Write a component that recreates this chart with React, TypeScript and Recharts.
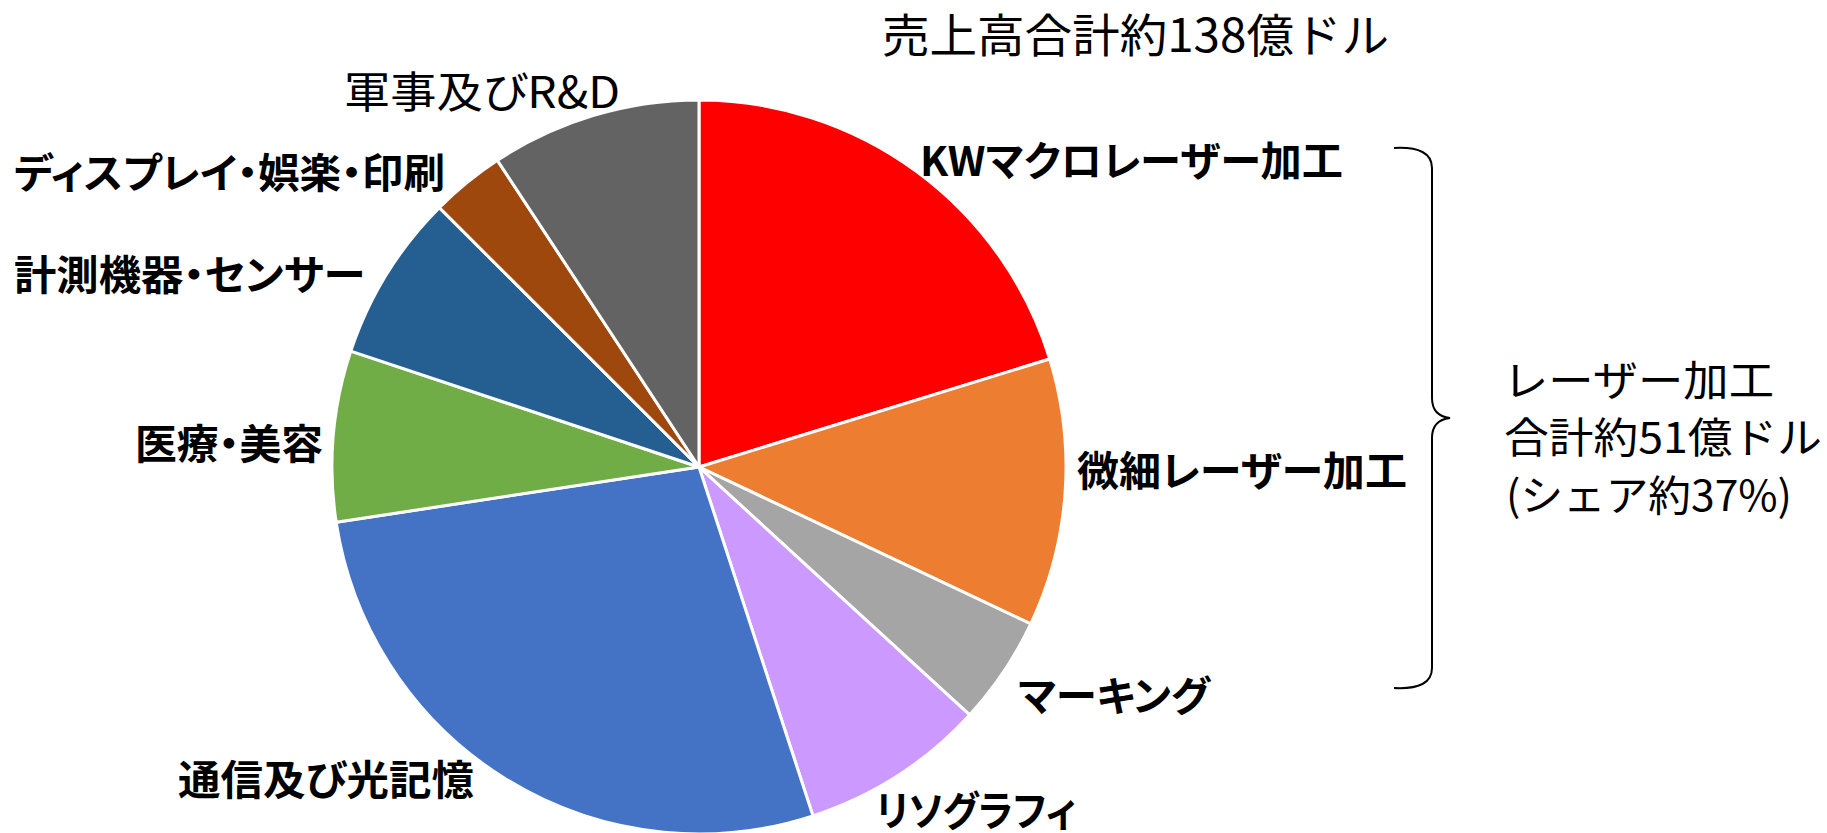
import React from 'react';
import { PieChart, Pie, Cell } from 'recharts';

// 売上高 (億ドル)
const segments = [
  'KWマクロレーザー加工',
  '微細レーザー加工',
  'マーキング',
  'リソグラフィ',
  '通信及び光記憶',
  '医療・美容',
  '計測機器・センサー',
  'ディスプレイ・娯楽・印刷',
  '軍事及びR&D',
];
const sales = [28, 16.3, 6.6, 11.3, 38.2, 10.4, 10.2, 4.5, 12.8];
const colors = ['#FF0000', '#ED7D31', '#A5A5A5', '#CC99FF', '#4472C4', '#70AD47', '#255E91', '#9E480E', '#636363'];

const title = '売上高合計約138億ドル';
const bracketNote = ['レーザー加工', '合計約51億ドル', '(シェア約37%)'];

// label placement relative to the pie centre: text start x, centre y, fitted width
const labelLayout = [
  { dx: 221, dy: -309, w: 423, bold: true },
  { dx: 378, dy: 1, w: 330, bold: true },
  { dx: 319, dy: 226, w: 192, bold: true },
  { dx: 177, dy: 341, w: 200, bold: true },
  { dx: -521, dy: 310, w: 296, bold: true },
  { dx: -564, dy: -26, w: 188, bold: true },
  { dx: -685, dy: -195, w: 351, bold: true },
  { dx: -685, dy: -297, w: 431, bold: true },
  { dx: -355, dy: -378, w: 276, bold: false },
];

const FONT = '"Noto Sans CJK JP", "Noto Sans", sans-serif';
const textStyle: React.CSSProperties = { fontFeatureSettings: '"palt"' };

const data = segments.map((name, i) => ({ name, value: sales[i] }));

const renderLabel = (props: any) => {
  const { cx, cy, index } = props;
  const l = labelLayout[index];
  return (
    <text
      x={cx + l.dx}
      y={cy + l.dy}
      dominantBaseline="central"
      textAnchor="start"
      fill="#000"
      fontSize={l.bold ? 41 : 43}
      fontWeight={l.bold ? 700 : 400}
      fontFamily={FONT}
      style={textStyle}
      textLength={l.w}
      lengthAdjust="spacingAndGlyphs"
    >
      {segments[index]}
    </text>
  );
};

const App: React.FC = () => {
  return (
    <div style={{ position: 'absolute', left: 0, top: 0, width: 1827, height: 833, background: '#fff' }}>
      <PieChart width={1827} height={833} margin={{ top: 0, right: 0, bottom: 0, left: 0 }}>
        <Pie
          data={data}
          dataKey="value"
          nameKey="name"
          cx={699}
          cy={467}
          outerRadius={367}
          startAngle={90}
          endAngle={-270}
          stroke="#fff"
          strokeWidth={3}
          label={renderLabel}
          labelLine={false}
          isAnimationActive={false}
        >
          {data.map((d, i) => (
            <Cell key={d.name} fill={colors[i]} />
          ))}
        </Pie>
      </PieChart>
      <svg width={1827} height={833} style={{ position: 'absolute', left: 0, top: 0, pointerEvents: 'none' }}>
        <text x={882} y={32} dominantBaseline="central" fontSize={46} fontFamily={FONT} fill="#000"
          textLength={507} lengthAdjust="spacingAndGlyphs">
          {title}
        </text>
        <path
          d="M1394,148 Q1432,146 1432,168 L1432,398 Q1432,416 1450,418 Q1432,420 1432,438 L1432,668 Q1432,690 1394,688"
          fill="none"
          stroke="#000"
          strokeWidth={2}
        />
        <text x={1503} y={377} dominantBaseline="central" fontSize={42} fontFamily={FONT} fill="#000"
          textLength={271} lengthAdjust="spacingAndGlyphs">
          {bracketNote[0]}
        </text>
        <text x={1504} y={434} dominantBaseline="central" fontSize={42} fontFamily={FONT} fill="#000"
          textLength={318} lengthAdjust="spacingAndGlyphs">
          {bracketNote[1]}
        </text>
        <text x={1506} y={492} dominantBaseline="central" fontSize={42} fontFamily={FONT} fill="#000"
          textLength={286} lengthAdjust="spacingAndGlyphs">
          {bracketNote[2]}
        </text>
      </svg>
    </div>
  );
};

export default App;
